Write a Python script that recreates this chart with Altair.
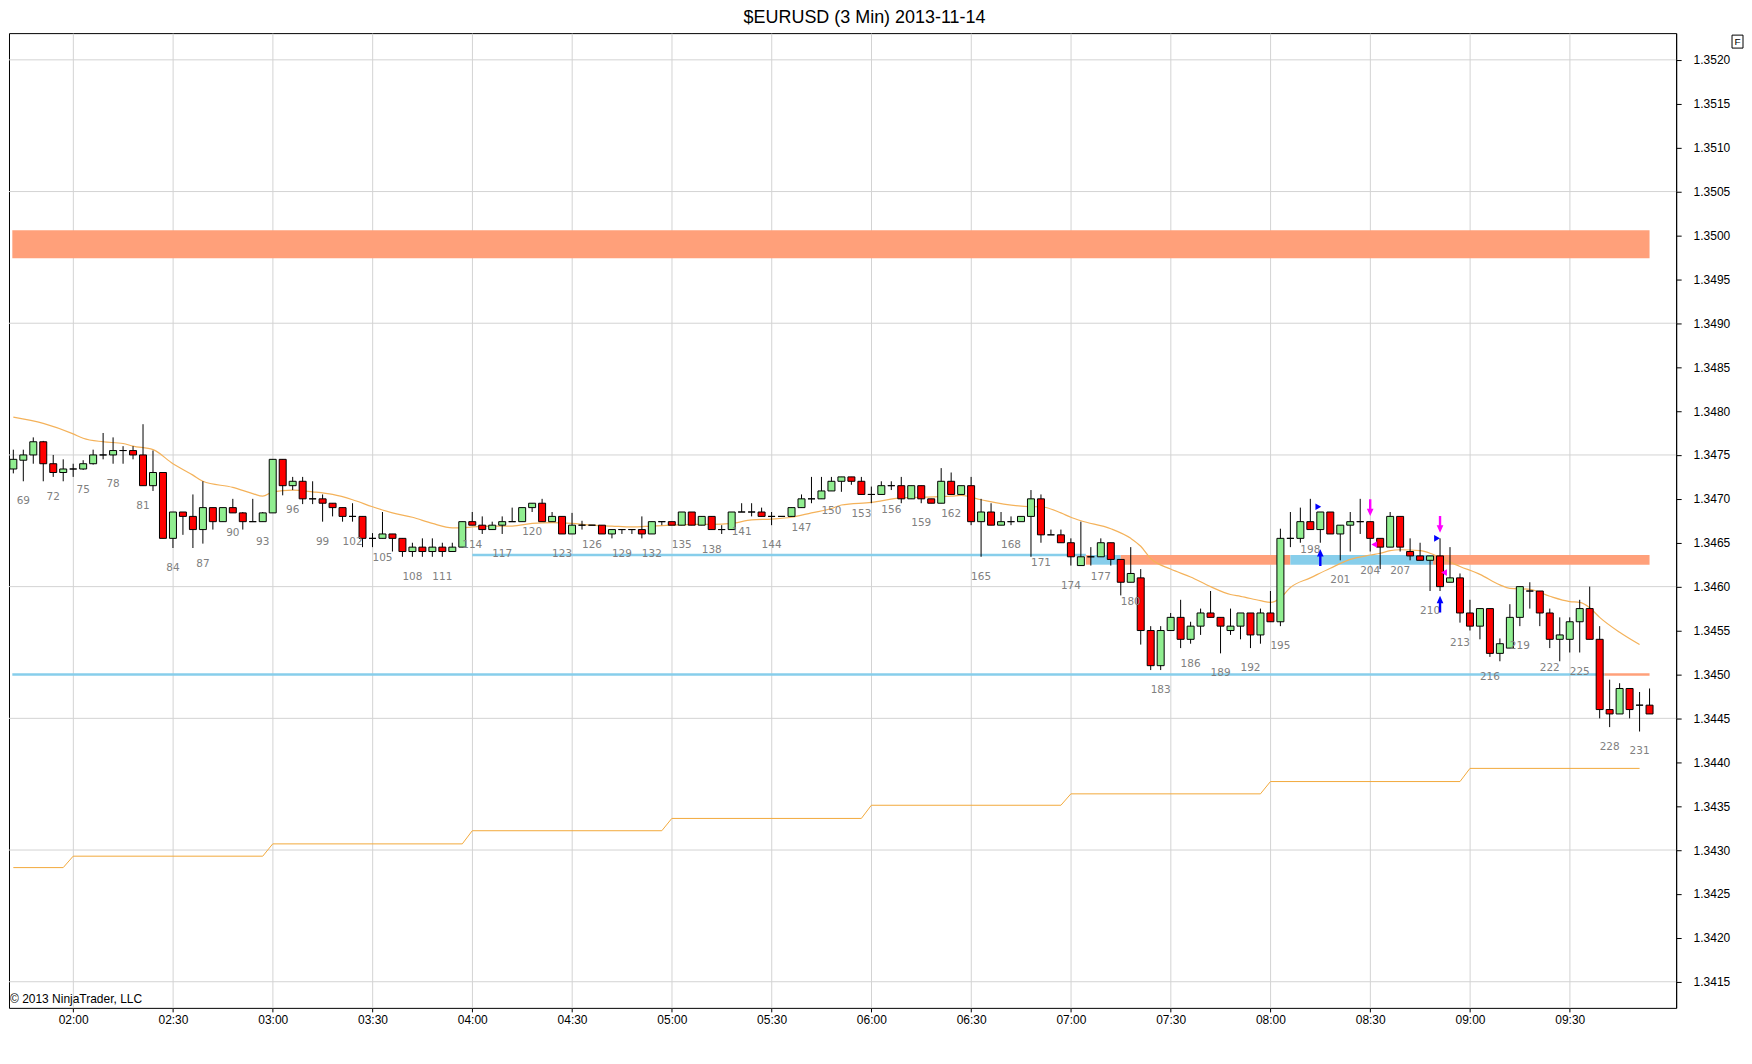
import altair as alt
import pandas as pd

title_text = "$EURUSD (3 Min)  2013-11-14"
first_bar = 68          # first bar number on screen
bar_0200 = 74           # bar number that closes at 02:00
bar_minutes = 3

opens = [1.34734,1.34744,1.34750,1.34765,1.34740,1.34730,1.34734,1.34734,1.34740,1.34750,
         1.34750,1.34755,1.34755,1.34750,1.34715,1.34730,1.34655,1.34685,1.34680,1.34665,
         1.34690,1.34674,1.34690,1.34684,1.34674,1.34674,1.34684,1.34745,1.34715,1.34720,
         1.34700,1.34700,1.34695,1.34690,1.34680,1.34680,1.34655,1.34655,1.34660,1.34655,
         1.34640,1.34645,1.34640,1.34645,1.34640,1.34645,1.34674,1.34670,1.34665,1.34670,
         1.34674,1.34674,1.34690,1.34695,1.34674,1.34680,1.34660,1.34670,1.34670,1.34670,
         1.34660,1.34665,1.34665,1.34665,1.34660,1.34674,1.34674,1.34670,1.34685,1.34670,
         1.34680,1.34665,1.34665,1.34685,1.34685,1.34685,1.34680,1.34680,1.34680,1.34690,
         1.34700,1.34700,1.34709,1.34720,1.34725,1.34720,1.34705,1.34705,1.34715,1.34715,
         1.34700,1.34715,1.34700,1.34695,1.34720,1.34705,1.34715,1.34674,1.34685,1.34670,
         1.34674,1.34674,1.34680,1.34700,1.34659,1.34659,1.34650,1.34624,1.34634,1.34634,
         1.34650,1.34631,1.34605,1.34610,1.34550,1.34510,1.34550,1.34565,1.34540,1.34555,
         1.34570,1.34565,1.34550,1.34555,1.34570,1.34545,1.34570,1.34560,1.34655,1.34655,
         1.34674,1.34665,1.34685,1.34660,1.34670,1.34674,1.34674,1.34655,1.34645,1.34680,
         1.34640,1.34635,1.34630,1.34635,1.34605,1.34610,1.34570,1.34555,1.34575,1.34524,
         1.34530,1.34565,1.34595,1.34595,1.34570,1.34540,1.34540,1.34560,1.34575,1.34540,
         1.34460,1.34455,1.34484,1.34465,1.34465]
highs = [1.34756,1.34756,1.34770,1.34766,1.34750,1.34745,1.34740,1.34744,1.34756,1.34775,
         1.34770,1.34760,1.34760,1.34785,1.34755,1.34730,1.34685,1.34685,1.34705,1.34720,
         1.34690,1.34690,1.34700,1.34685,1.34700,1.34685,1.34745,1.34745,1.34725,1.34725,
         1.34720,1.34705,1.34695,1.34690,1.34695,1.34680,1.34661,1.34685,1.34660,1.34655,
         1.34650,1.34655,1.34655,1.34650,1.34650,1.34674,1.34685,1.34680,1.34674,1.34680,
         1.34690,1.34690,1.34695,1.34700,1.34685,1.34680,1.34684,1.34675,1.34670,1.34670,
         1.34665,1.34665,1.34665,1.34680,1.34674,1.34674,1.34674,1.34685,1.34685,1.34680,
         1.34680,1.34670,1.34685,1.34695,1.34695,1.34690,1.34685,1.34680,1.34690,1.34705,
         1.34725,1.34725,1.34725,1.34725,1.34725,1.34725,1.34714,1.34720,1.34720,1.34725,
         1.34715,1.34715,1.34700,1.34735,1.34730,1.34715,1.34725,1.34700,1.34695,1.34685,
         1.34680,1.34680,1.34710,1.34705,1.34665,1.34665,1.34655,1.34674,1.34645,1.34655,
         1.34650,1.34631,1.34645,1.34620,1.34555,1.34555,1.34570,1.34585,1.34560,1.34575,
         1.34595,1.34565,1.34575,1.34570,1.34570,1.34575,1.34595,1.34666,1.34685,1.34690,
         1.34700,1.34685,1.34685,1.34670,1.34685,1.34700,1.34674,1.34655,1.34685,1.34680,
         1.34655,1.34650,1.34635,1.34655,1.34645,1.34615,1.34585,1.34575,1.34575,1.34541,
         1.34580,1.34600,1.34605,1.34595,1.34575,1.34565,1.34565,1.34585,1.34600,1.34555,
         1.34494,1.34490,1.34484,1.34480,1.34484]
lows = [1.34729,1.34720,1.34740,1.34720,1.34725,1.34720,1.34725,1.34733,1.34739,1.34745,
        1.34740,1.34740,1.34745,1.34715,1.34709,1.34655,1.34644,1.34659,1.34644,1.34649,
        1.34665,1.34674,1.34684,1.34665,1.34674,1.34674,1.34684,1.34704,1.34710,1.34694,
        1.34694,1.34674,1.34680,1.34674,1.34674,1.34645,1.34645,1.34655,1.34640,1.34634,
        1.34634,1.34634,1.34634,1.34634,1.34640,1.34645,1.34670,1.34660,1.34665,1.34660,
        1.34674,1.34674,1.34685,1.34674,1.34674,1.34660,1.34660,1.34665,1.34670,1.34660,
        1.34655,1.34660,1.34660,1.34655,1.34660,1.34670,1.34670,1.34670,1.34670,1.34670,
        1.34665,1.34660,1.34665,1.34685,1.34680,1.34680,1.34670,1.34680,1.34680,1.34690,
        1.34695,1.34700,1.34709,1.34708,1.34716,1.34705,1.34695,1.34705,1.34710,1.34695,
        1.34700,1.34695,1.34695,1.34695,1.34705,1.34705,1.34670,1.34634,1.34670,1.34670,
        1.34670,1.34674,1.34634,1.34650,1.34659,1.34650,1.34624,1.34624,1.34624,1.34634,
        1.34624,1.34590,1.34605,1.34534,1.34505,1.34505,1.34550,1.34530,1.34535,1.34545,
        1.34565,1.34524,1.34545,1.34540,1.34530,1.34535,1.34560,1.34555,1.34645,1.34650,
        1.34665,1.34650,1.34660,1.34630,1.34640,1.34660,1.34640,1.34620,1.34645,1.34640,
        1.34630,1.34630,1.34595,1.34595,1.34605,1.34559,1.34550,1.34540,1.34520,1.34515,
        1.34530,1.34555,1.34575,1.34555,1.34530,1.34515,1.34525,1.34525,1.34540,1.34450,
        1.34440,1.34455,1.34450,1.34435,1.34455]
closes = [1.34745,1.34750,1.34765,1.34740,1.34730,1.34734,1.34734,1.34740,1.34750,1.34750,
          1.34755,1.34755,1.34750,1.34715,1.34730,1.34655,1.34685,1.34680,1.34665,1.34690,
          1.34674,1.34690,1.34684,1.34674,1.34674,1.34684,1.34745,1.34715,1.34720,1.34700,
          1.34700,1.34695,1.34690,1.34680,1.34680,1.34655,1.34655,1.34660,1.34655,1.34640,
          1.34645,1.34640,1.34645,1.34640,1.34645,1.34674,1.34670,1.34665,1.34670,1.34674,
          1.34674,1.34690,1.34695,1.34674,1.34680,1.34660,1.34670,1.34670,1.34670,1.34660,
          1.34665,1.34665,1.34665,1.34660,1.34674,1.34674,1.34670,1.34685,1.34670,1.34680,
          1.34665,1.34665,1.34685,1.34685,1.34685,1.34680,1.34680,1.34680,1.34690,1.34700,
          1.34700,1.34709,1.34720,1.34725,1.34720,1.34705,1.34705,1.34715,1.34715,1.34700,
          1.34715,1.34700,1.34695,1.34720,1.34705,1.34715,1.34674,1.34685,1.34670,1.34674,
          1.34674,1.34680,1.34700,1.34659,1.34659,1.34650,1.34634,1.34634,1.34634,1.34650,
          1.34631,1.34605,1.34615,1.34550,1.34510,1.34550,1.34565,1.34540,1.34555,1.34570,
          1.34565,1.34555,1.34555,1.34570,1.34545,1.34570,1.34560,1.34655,1.34655,1.34674,
          1.34665,1.34685,1.34660,1.34670,1.34674,1.34674,1.34655,1.34645,1.34680,1.34645,
          1.34635,1.34630,1.34635,1.34600,1.34610,1.34570,1.34555,1.34575,1.34524,1.34535,
          1.34565,1.34600,1.34595,1.34570,1.34540,1.34545,1.34560,1.34575,1.34540,1.34460,
          1.34455,1.34484,1.34460,1.34465,1.34455]

# moving average (bar number, price)
ma_bars = [68,71,74,75,77,79,80,82,84,86,87,90,92,93,94,96,98,100,102,104,106,108,110,112,113,
           114,116,118,120,122,124,126,128,130,132,134,136,138,140,142,144,146,148,150,151,154,
           157,162,163,165,170,171,173,174,175,178,180,181,182,184,186,188,190,191,193,194,195,
           196,198,200,202,204,205,206,207,209,210,211,213,215,217,218,220,222,224,225,226,227,
           229,231]
ma_vals = [1.34793,1.34786,1.34774,1.34769,1.34765,1.34763,1.34760,1.34756,1.34740,1.34727,
           1.34720,1.34713,1.34706,1.34703,1.34708,1.34710,1.34708,1.34705,1.34699,1.34691,
           1.34684,1.34679,1.34672,1.34667,1.34667,1.34668,1.34669,1.34669,1.34672,1.34673,
           1.34672,1.34670,1.34669,1.34668,1.34669,1.34670,1.34671,1.34671,1.34672,1.34676,
           1.34677,1.34679,1.34684,1.34689,1.34693,1.34696,1.34701,1.34703,1.34704,1.34699,
           1.34691,1.34691,1.34684,1.34679,1.34675,1.34666,1.34655,1.34646,1.34632,1.34620,
           1.34611,1.34600,1.34591,1.34589,1.34584,1.34582,1.34587,1.34599,1.34610,1.34621,
           1.34631,1.34636,1.34638,1.34641,1.34642,1.34641,1.34638,1.34633,1.34623,1.34614,
           1.34602,1.34598,1.34597,1.34589,1.34583,1.34582,1.34576,1.34565,1.34548,1.34534]

# lower stepped level line (changes every hour)
lvl_start = [68, 74, 94, 114, 134, 154, 174, 194, 214]
lvl_end = [73, 93, 113, 133, 153, 173, 193, 213, 231]
lvl_vals = [1.34280, 1.34293, 1.34307, 1.34322, 1.34336, 1.34351, 1.34364, 1.34378, 1.34393]

# zones: bar from, bar to, price low, price high, colour
zone_from = [67.9, 175.5, 176.0, 179.0, 196.0, 210.3]
zone_to = [232.0, 176.0, 179.0, 196.0, 210.3, 232.0]
zone_lo = [1.34974, 1.34625, 1.34625, 1.34625, 1.34625, 1.34625]
zone_hi = [1.35006, 1.34636, 1.34636, 1.34636, 1.34636, 1.34636]
zone_col = ["#FFA07A", "#FFA07A", "#87CEEB", "#FFA07A", "#87CEEB", "#FFA07A"]

# horizontal level lines
hl_from = [114.0, 67.9, 227.5]
hl_to = [175.5, 227.5, 232.0]
hl_val = [1.34636, 1.34500, 1.34500]
hl_col = ["#87CEEB", "#87CEEB", "#FFA07A"]

# signal arrows / flags
arrow_bar = [199, 211, 204, 211]
arrow_price = [1.34633, 1.34580, 1.34690, 1.34671]
arrow_dir = ["up", "up", "down", "down"]
flag_bar = [198.8, 210.7, 204.4, 211.4]
flag_price = [1.34691, 1.34655, 1.34648, 1.34616]
flag_dir = ["right", "right", "left", "left"]

y_ticks = [round(1.3415 + 0.0005 * i, 4) for i in range(22)]
y_grid = [1.3415, 1.3430, 1.3445, 1.3460, 1.3475, 1.3490, 1.3505, 1.3520]
x_ticks = [120, 150, 180, 210, 240, 270, 300, 330, 360, 390, 420, 450, 480, 510, 540, 570]


def tm(b):
    return 120 + (b - bar_0200) * bar_minutes


bars = list(range(first_bar, first_bar + len(opens)))
df = pd.DataFrame({"bar": bars, "o": opens, "h": highs, "l": lows, "c": closes})
df["t"] = df["bar"].apply(tm)
df["dir"] = ["up" if c >= o else "down" for o, c in zip(opens, closes)]
df["lab"] = [str(b) if b % 3 == 0 else "" for b in bars]

ma_df = pd.DataFrame({"t": [tm(b) for b in ma_bars], "v": ma_vals})
lv_t, lv_v = [], []
for s, e, v in zip(lvl_start, lvl_end, lvl_vals):
    lv_t += [tm(s), tm(e)]
    lv_v += [v, v]
lv_df = pd.DataFrame({"t": lv_t, "v": lv_v})
zone_df = pd.DataFrame({"t1": [tm(b) for b in zone_from], "t2": [tm(b) for b in zone_to],
                        "lo": zone_lo, "hi": zone_hi, "col": zone_col})
hl_df = pd.DataFrame({"t1": [tm(b) for b in hl_from], "t2": [tm(b) for b in hl_to],
                      "v": hl_val, "col": hl_col})
ar_df = pd.DataFrame({"t": [tm(b) for b in arrow_bar], "v": arrow_price, "d": arrow_dir})
fl_df = pd.DataFrame({"t": [tm(b) for b in flag_bar], "v": flag_price, "d": flag_dir})
grid_df = pd.DataFrame({"v": y_grid})
one = pd.DataFrame({"txt": ["\u00a9 2013 NinjaTrader, LLC"], "f": ["F"]})

FONT = "Liberation Sans"
xs = alt.Scale(domain=[100.7, 602.0], nice=False, zero=False, padding=0)
ys = alt.Scale(domain=[1.3412023, 1.3523045], nice=False, zero=False, padding=0)
xax = alt.Axis(title=None, values=x_ticks, grid=True, gridColor="#D3D3D3", gridWidth=1,
               labelExpr="format(floor(datum.value/60),'02d') + ':' + format(datum.value % 60,'02d')",
               tickSize=4, tickColor="#000", labelFontSize=12, labelFont=FONT, labelColor="#000",
               labelPadding=3, domain=False)
yax = alt.Axis(title=None, orient="right", values=y_ticks, format=".4f", grid=False, tickSize=5,
               tickColor="#000", labelFontSize=12, labelFont=FONT, labelColor="#000",
               labelPadding=12, domain=True, domainColor="#000")


def X(f):
    return alt.X(f, type="quantitative", scale=xs, axis=xax)


def Y(f):
    return alt.Y(f, type="quantitative", scale=ys, axis=yax)


hgrid = alt.Chart(grid_df).mark_rule(color="#D3D3D3", strokeWidth=1).encode(y=Y("v"))

zones = alt.Chart(zone_df).mark_rect().encode(
    x=X("t1"), x2="t2", y=Y("lo"), y2="hi", color=alt.Color("col:N", scale=None))

hlines = alt.Chart(hl_df).mark_rule(strokeWidth=2.5).encode(
    x=X("t1"), x2="t2", y=Y("v"), color=alt.Color("col:N", scale=None))

level = alt.Chart(lv_df).mark_line(color="#F2A93B", strokeWidth=1).encode(x=X("t"), y=Y("v"))
ma = alt.Chart(ma_df).mark_line(color="#F4B25A", strokeWidth=1.2, interpolate="monotone").encode(
    x=X("t"), y=Y("v"))

wicks = alt.Chart(df).mark_rule(color="#000", strokeWidth=1).encode(x=X("t"), y=Y("l"), y2="h")
bodies = alt.Chart(df).mark_bar(size=7, stroke="#000", strokeWidth=1).encode(
    x=X("t"), y=Y("o"), y2="c",
    color=alt.Color("dir:N", scale=alt.Scale(domain=["up", "down"], range=["#90EE90", "#FF0000"]),
                    legend=None))
labels = alt.Chart(df).mark_text(color="#808080", fontSize=10.5, font="DejaVu Sans", dy=20,
                                 baseline="middle").encode(x=X("t"), y=Y("l"), text="lab:N")

up_ar = alt.Chart(ar_df).transform_filter("datum.d == 'up'").mark_point(
    shape="arrow", filled=True, size=280, color="#0000FF", opacity=1).encode(x=X("t"), y=Y("v"))
dn_ar = alt.Chart(ar_df).transform_filter("datum.d == 'down'").mark_point(
    shape="arrow", filled=True, size=280, color="#FF00FF", angle=180, opacity=1).encode(x=X("t"), y=Y("v"))
fl_r = alt.Chart(fl_df).transform_filter("datum.d == 'right'").mark_point(
    shape="triangle-right", filled=True, size=45, color="#0000FF", opacity=1).encode(x=X("t"), y=Y("v"))
fl_l = alt.Chart(fl_df).transform_filter("datum.d == 'left'").mark_point(
    shape="triangle-left", filled=True, size=45, color="#FF00FF", opacity=1).encode(x=X("t"), y=Y("v"))

copy = alt.Chart(one).mark_text(align="left", baseline="middle", fontSize=12, font=FONT,
                                color="#000").encode(x=alt.value(1), y=alt.value(968), text="txt:N")
fbox = alt.Chart(one).mark_rect(fill="#FFFFFF", stroke="#000", strokeWidth=1).encode(
    x=alt.value(1727), x2=alt.value(1738), y=alt.value(2), y2=alt.value(15))
ftxt = alt.Chart(one).mark_text(fontSize=10, font=FONT, color="#000", baseline="middle").encode(
    x=alt.value(1732.5), y=alt.value(8.5), text="f:N")

chart = alt.layer(hgrid, zones, hlines, level, ma, wicks, bodies, labels, up_ar, dn_ar, fl_r, fl_l,
                  copy, fbox, ftxt).properties(
    width=1671, height=977, padding=0,
    title=alt.TitleParams(title_text, fontSize=18, font=FONT, fontWeight="normal", anchor="middle",
                          offset=6, dx=22, color="#000"),
    background="#FFFFFF",
).configure_view(stroke="#000", strokeWidth=1)

chart.save("out.html", embed_options={"renderer": "svg", "actions": False})
